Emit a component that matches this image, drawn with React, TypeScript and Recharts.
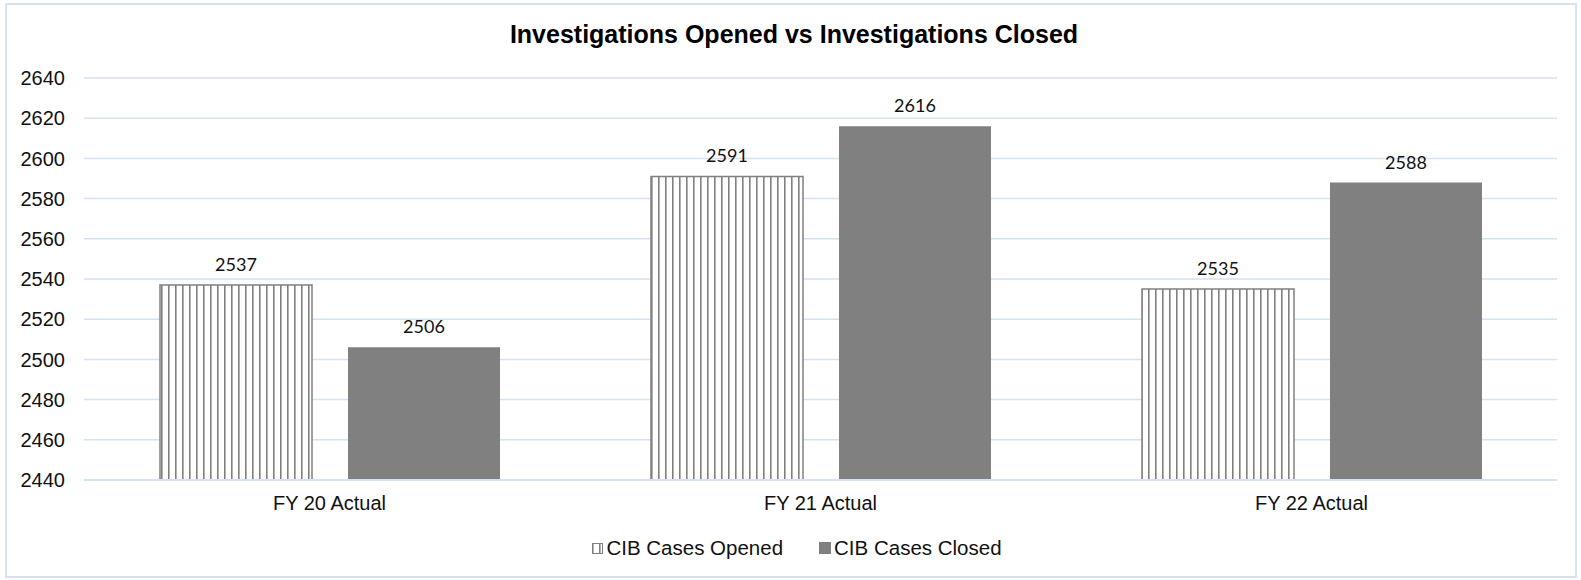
import React from "react";
import {
  BarChart,
  Bar,
  XAxis,
  YAxis,
  CartesianGrid,
  Legend,
  LabelList,
} from "recharts";

// Investigations opened vs closed, per fiscal year.

const categories = ["FY 20 Actual", "FY 21 Actual", "FY 22 Actual"];
const casesOpened = [2537, 2591, 2535];
const casesClosed = [2506, 2616, 2588];
const yTicks = [2440, 2460, 2480, 2500, 2520, 2540, 2560, 2580, 2600, 2620, 2640];

const data = categories.map((name, i) => ({
  name,
  opened: casesOpened[i],
  closed: casesClosed[i],
}));

const GRID = "#D6E1F1";
const GREY = "#808080";
const FONT = "'Liberation Sans', Arial, sans-serif";

function ChartLegend() {
  return (
    <div
      style={{
        height: 60,
        display: "flex",
        justifyContent: "center",
        alignItems: "flex-start",
        paddingTop: 16,
        paddingLeft: 37,
        fontFamily: FONT,
        fontSize: 20.5,
        color: "#111",
        boxSizing: "border-box",
      }}
    >
      <span style={{ display: "flex", alignItems: "center", marginRight: 36 }}>
        <svg width={11} height={11} style={{ marginRight: 3 }}>
          <rect x={0.5} y={0.5} width={10} height={10} fill="url(#stripes)" stroke={GREY} />
        </svg>
        CIB Cases Opened
      </span>
      <span style={{ display: "flex", alignItems: "center" }}>
        <svg width={12} height={12} style={{ marginRight: 3 }}>
          <rect x={0} y={0} width={12} height={12} fill={GREY} />
        </svg>
        CIB Cases Closed
      </span>
    </div>
  );
}

export default function App() {
  return (
    <div
      style={{
        position: "absolute",
        left: 0,
        top: 0,
        width: 1581,
        height: 580,
        background: "#fff",
      }}
    >
      <div
        style={{
          position: "absolute",
          left: 5,
          top: 3,
          width: 1568,
          height: 571,
          border: `2px solid ${GRID}`,
        }}
      />
      <div
        style={{
          position: "absolute",
          left: 0,
          top: 20,
          width: 1588,
          textAlign: "center",
          fontFamily: FONT,
          fontWeight: "bold",
          fontSize: 25,
          color: "#000",
        }}
      >
        Investigations Opened vs Investigations Closed
      </div>
      <div style={{ position: "absolute", left: 0, top: 0 }}>
        <BarChart
          width={1581}
          height={580}
          data={data}
          margin={{ top: 78, right: 24, left: 0, bottom: 0 }}
          barCategoryGap={75}
          barGap={36}
        >
          <defs>
            <pattern id="stripes" width={7} height={10} patternUnits="userSpaceOnUse">
              <rect x={0} y={0} width={7} height={10} fill="#fff" />
              <rect x={0} y={0} width={1.6} height={10} fill={GREY} />
            </pattern>
          </defs>
          <CartesianGrid vertical={false} stroke={GRID} strokeWidth={1.5} />
          <XAxis
            dataKey="name"
            height={40}
            axisLine={{ stroke: GRID, strokeWidth: 2 }}
            tickLine={false}
            tickSize={0}
            tickMargin={16}
            tick={{ fill: "#111", fontSize: 20, fontFamily: FONT }}
          />
          <YAxis
            width={84}
            domain={[2440, 2640]}
            ticks={yTicks}
            interval={0}
            axisLine={false}
            tickLine={false}
            tickSize={0}
            tickMargin={19}
            tick={{ fill: "#111", fontSize: 20, fontFamily: FONT }}
          />
          <Legend verticalAlign="bottom" height={60} content={<ChartLegend />} />
          <Bar
            dataKey="opened"
            name="CIB Cases Opened"
            fill="url(#stripes)"
            stroke={GREY}
            strokeWidth={1.5}
            barSize={152}
            isAnimationActive={false}
          >
            <LabelList
              dataKey="opened"
              position="top"
              offset={14}
              style={{ fill: "#111", fontSize: 18, fontFamily: "Lato, sans-serif" }}
            />
          </Bar>
          <Bar
            dataKey="closed"
            name="CIB Cases Closed"
            fill={GREY}
            barSize={152}
            isAnimationActive={false}
          >
            <LabelList
              dataKey="closed"
              position="top"
              offset={14}
              style={{ fill: "#111", fontSize: 18, fontFamily: "Lato, sans-serif" }}
            />
          </Bar>
        </BarChart>
      </div>
    </div>
  );
}
